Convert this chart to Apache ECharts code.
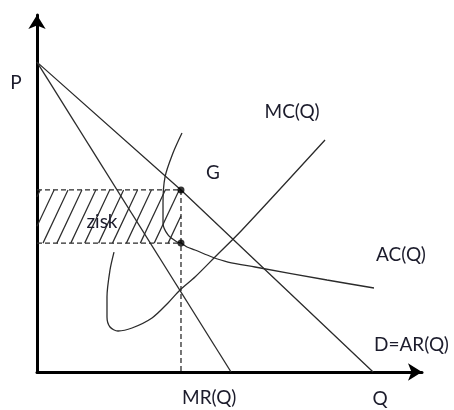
<!DOCTYPE html>
<html><head><meta charset="utf-8">
<script src="https://cdn.jsdelivr.net/npm/echarts@6/dist/echarts.min.js"></script>
<style>html,body{margin:0;padding:0;background:#fff}#c{width:454px;height:410px}</style>
</head><body><div id="c"></div>
<script>
// Demand D = AR(Q)
const demandQ = [0, 3.74, 8.73];
const demandP = [8.68, 5.10, 0];
// Marginal revenue MR(Q)
const mrQ = [0, 5.04];
const mrP = [8.68, 0];
// Marginal cost MC(Q)
const mcQ = [2.00, 1.896, 1.818, 1.818, 1.896, 2.104, 2.468, 2.987, 3.403, 3.714, 4.104, 4.623, 5.325, 7.481];
const mcP = [3.36, 2.857, 2.101, 1.541, 1.261, 1.148, 1.232, 1.513, 1.933, 2.297, 2.661, 3.221, 3.978, 6.499];
// Average cost AC(Q)
const acQ = [3.766, 3.532, 3.325, 3.273, 3.273, 3.403, 3.636, 3.740, 3.896, 4.104, 4.545, 4.961, 5.662, 7.532, 8.753];
const acP = [6.695, 6.134, 5.462, 4.734, 4.174, 3.838, 3.641, 3.613, 3.501, 3.417, 3.221, 3.081, 2.941, 2.577, 2.353];
// Equilibrium
const qStar = 3.74;
const priceG = 5.10;
const acAtQ = 3.61;

const pairs = (a, b) => a.map((v, i) => [v, b[i]]);
const ink = '#2b2b2b';
const txt = '#1c1c2c';
const FONT = '19px Lato';

function renderHatch(params, api) {
  const p0 = api.coord([api.value(0), api.value(1)]);
  const p1 = api.coord([api.value(2), api.value(3)]);
  const x0 = p0[0], yb = p0[1], x1 = p1[0], yt = p1[1];
  const h = yb - yt, k = 0.47, step = 13.9;
  const dx = k * h;
  const children = [];
  for (let i = -6; i < 30; i++) {
    const b = x0 + 6 + i * step;
    const tmin = Math.max(0, (x0 - b) / dx);
    const tmax = Math.min(1, (x1 - b) / dx);
    if (tmin >= tmax) continue;
    children.push({
      type: 'line',
      shape: { x1: b + dx * tmin, y1: yb - h * tmin, x2: b + dx * tmax, y2: yb - h * tmax },
      style: { stroke: ink, lineWidth: 1.2 }
    });
  }
  return { type: 'group', children };
}

const axisCommon = {
  type: 'value', min: 0, max: 10,
  axisLabel: { show: false }, axisTick: { show: false }, splitLine: { show: false },
  axisLine: { show: true, lineStyle: { color: '#000', width: 3 }, symbol: ['none', 'arrow'], symbolSize: [13, 14] }
};

const chart = echarts.init(document.getElementById('c'));
const texts = [
  ['P', 16, 83, 'center'],
  ['MC(Q)', 292, 112, 'center'],
  ['G', 213, 173, 'center'],
  ['zisk', 102, 222, 'center'],
  ['AC(Q)', 401, 255, 'center'],
  ['D=AR(Q)', 374, 345, 'left'],
  ['MR(Q)', 182, 398, 'left'],
  ['Q', 380, 399, 'center']
];
chart.setOption({
  animation: false,
  grid: { left: 37, right: 32, top: 15, bottom: 38 },
  xAxis: axisCommon,
  yAxis: axisCommon,
  series: [
    { type: 'custom', renderItem: renderHatch, data: [[0, acAtQ, qStar, priceG]], encode: { x: [0, 2], y: [1, 3] }, z: 1, silent: true },
    { type: 'line', data: pairs(demandQ, demandP), symbol: 'none', lineStyle: { color: ink, width: 1.3 }, z: 2 },
    { type: 'line', data: pairs(mrQ, mrP), symbol: 'none', lineStyle: { color: ink, width: 1.3 }, z: 2 },
    { type: 'line', data: pairs(mcQ, mcP), symbol: 'none', smooth: 0.3, lineStyle: { color: ink, width: 1.3 }, z: 2 },
    { type: 'line', data: pairs(acQ, acP), symbol: 'none', smooth: 0.3, lineStyle: { color: ink, width: 1.3 }, z: 2 },
    { type: 'line', data: [[0, priceG], [qStar, priceG], [qStar, 0]], symbol: 'none', lineStyle: { color: ink, width: 1.3, type: [5, 3] }, z: 2 },
    { type: 'line', data: [[0, acAtQ], [qStar, acAtQ]], symbol: 'none', lineStyle: { color: ink, width: 1.3, type: [5, 3] }, z: 2 },
    { type: 'scatter', data: [[qStar, priceG], [qStar, acAtQ]], symbolSize: 7, itemStyle: { color: '#000' }, z: 3 }
  ],
  graphic: texts.map(t => ({
    type: 'text', x: t[1], y: t[2], z: 10,
    style: { text: t[0], font: FONT, fill: txt, align: t[3], verticalAlign: 'middle' }
  }))
});
</script></body></html>
